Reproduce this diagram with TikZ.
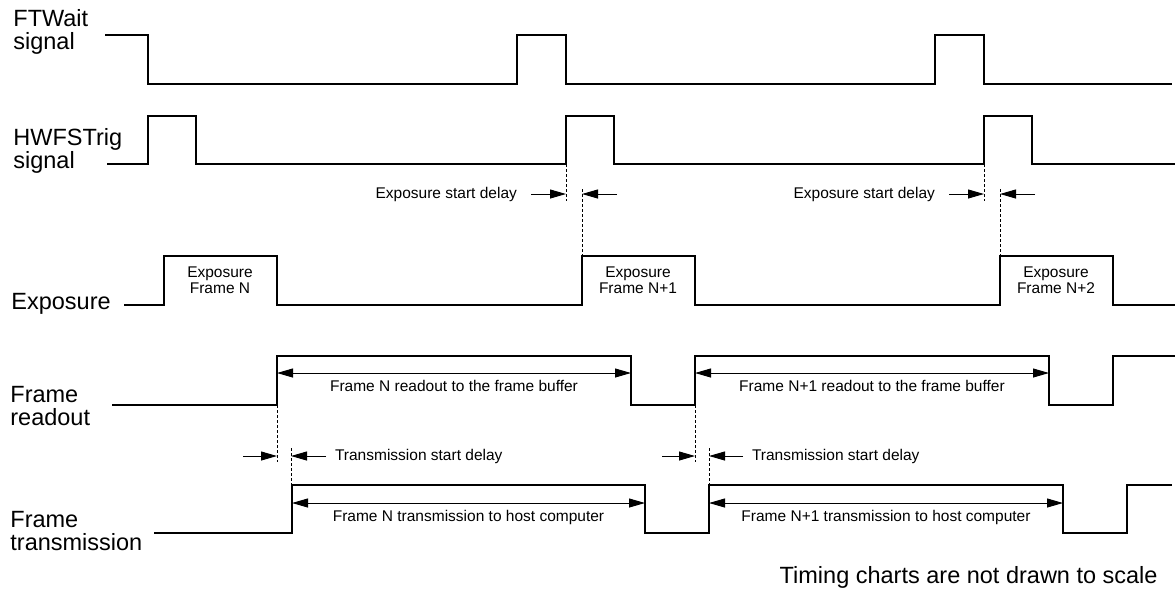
\documentclass[tikz,border=0pt]{standalone}
\usepackage{fontspec}
\setmainfont{Liberation Sans}
\usetikzlibrary{arrows.meta}
\usetikzlibrary{positioning}

\tikzset{
	sig/.style={line width=1pt},
	dim/.style={line width=0.5pt},
	tick/.style={line width=0.5pt, dash pattern=on 1.5pt off 1pt},
	big/.style={font=\fontsize{11.75pt}{11.5pt}\selectfont, align=left, inner sep=0pt},
	small/.style={font=\fontsize{7.75pt}{8pt}\selectfont, align=center},
}

\begin{document}
\begin{tikzpicture}[x=0.5pt, y=-0.5pt, >={Triangle[length=8pt,width=4.5pt]}]
		\useasboundingbox (0,0) rectangle (1175,591);
		% signal names (base = last line)
		\node[big, anchor=base west] (ftw) at (13,49) {FTWait\\signal};
		\node[big, anchor=base west] (trig) at (13,168) {HWFSTrig\\signal};
		\node[big, anchor=base west] (exp) at (11,309) {Exposure};
		\node[big, anchor=base west] (rd) at (10,425) {Frame\\readout};
		\node[big, anchor=base west] (tx) at (10,550) {Frame\\transmission};
		% waveforms
		\draw[sig] (105,35) -| (148,84) -| (517,35) -| (566,84) -| (935,35) -| (984,84) -- (1172,84);
		\draw[sig] (107,164) -| (148,116) -| (196,164) -| (566,116) -| (614,164) -| (984,116) -| (1032,164) -- (1175,164);
		\draw[sig] (124,305) -| (164,256) -| (277,305) -| (582,256) -| (695,305) -| (1000,256) -| (1113,305) -- (1175,305);
		\draw[sig] (112,405) -| (277,356) -| (631,405) -| (695,356) -| (1049,405) -| (1113,356) -- (1175,356);
		\draw[sig] (154,533) -| (292,485) -| (645,533) -| (709,485) -| (1063,533) -| (1127,485) -- (1172,485);
		% exposure frames
		\node[small] (ef1) at (220,280) {Exposure\\Frame N};
		\node[small] (ef2) at (638,280) {Exposure\\Frame N+1};
		\node[small] (ef3) at (1056,280) {Exposure\\Frame N+2};
		% exposure start delay
		\coordinate (ea1) at (531,194);
		\coordinate (eb1) at (566,194);
		\coordinate (ec1) at (582,194);
		\coordinate (ed1) at (617,194);
		\coordinate (ea2) at (949,194);
		\coordinate (eb2) at (984,194);
		\coordinate (ec2) at (1000,194);
		\coordinate (ed2) at (1035,194);
		\draw[tick] (566,164) -- (566,201);
		\draw[tick] (582,189) -- (582,256);
		\draw[tick] (984,164) -- (984,201);
		\draw[tick] (1000,189) -- (1000,256);
		\draw[dim, ->] (ea1) -- (eb1);
		\draw[dim, ->] (ed1) -- (ec1);
		\draw[dim, ->] (ea2) -- (eb2);
		\draw[dim, ->] (ed2) -- (ec2);
		\node[small, anchor=east, xshift=-3.5pt] (esd1) at (ea1) {Exposure start delay};
		\node[small, anchor=east, xshift=-3.5pt] (esd2) at (ea2) {Exposure start delay};
		% readout
		\coordinate (ra1) at (277,373);
		\coordinate (rb1) at (631,373);
		\coordinate (ra2) at (695,373);
		\coordinate (rb2) at (1049,373);
		\draw[dim, <->] (ra1) -- node[small, below] {Frame N readout to the frame buffer} (rb1);
		\draw[dim, <->] (ra2) -- node[small, below] {Frame N+1 readout to the frame buffer} (rb2);
		% transmission start delay
		\coordinate (ta1) at (243,456);
		\coordinate (tb1) at (277,456);
		\coordinate (tc1) at (291,456);
		\coordinate (td1) at (326,456);
		\coordinate (ta2) at (662,456);
		\coordinate (tb2) at (695,456);
		\coordinate (tc2) at (709,456);
		\coordinate (td2) at (743,456);
		\draw[tick] (277,405) -- (277,462);
		\draw[tick] (291,448) -- (291,485);
		\draw[tick] (695,405) -- (695,462);
		\draw[tick] (709,448) -- (709,485);
		\draw[dim, ->] (ta1) -- (tb1);
		\draw[dim, ->] (td1) -- (tc1);
		\draw[dim, ->] (ta2) -- (tb2);
		\draw[dim, ->] (td2) -- (tc2);
		\node[small, anchor=west, xshift=1pt] (tsd1) at (td1) {Transmission start delay};
		\node[small, anchor=west, xshift=1pt] (tsd2) at (td2) {Transmission start delay};
		% transmission
		\coordinate (xa1) at (292,503);
		\coordinate (xb1) at (645,503);
		\coordinate (xa2) at (709,503);
		\coordinate (xb2) at (1063,503);
		\draw[dim, <->] (xa1) -- node[small, below] {Frame N transmission to host computer} (xb1);
		\draw[dim, <->] (xa2) -- node[small, below] {Frame N+1 transmission to host computer} (xb2);
		% note
		\node[big, anchor=base east] (note) at (1158,583) {Timing charts are not drawn to scale};
	\end{tikzpicture}
\end{document}
